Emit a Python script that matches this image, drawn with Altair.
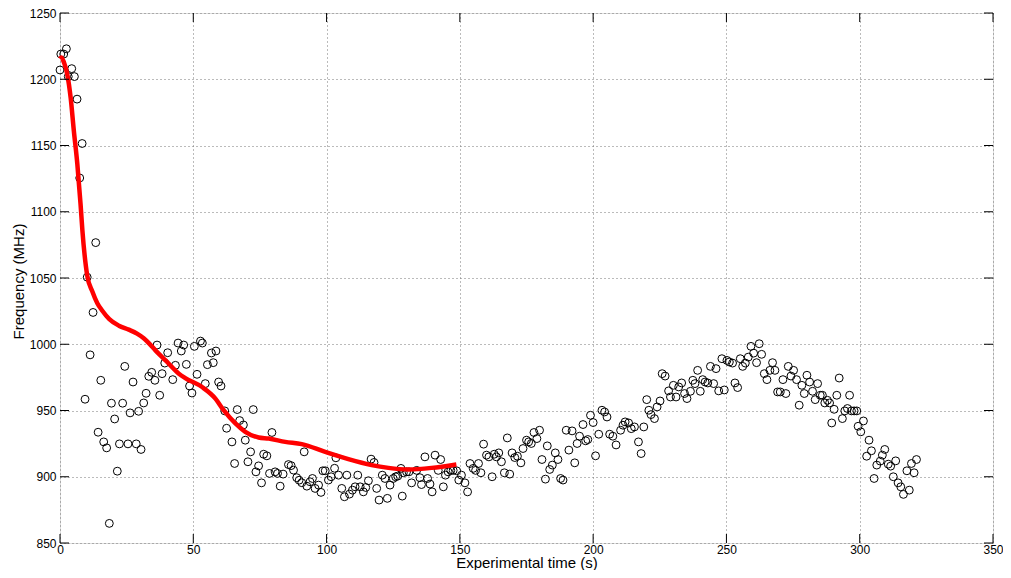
import altair as alt
import pandas as pd

# Scatter data: experimental time (s) and frequency (MHz)
t_s = [0.0, 0.3, 1.4, 2.4, 3.1, 4.4, 5.4, 6.4, 7.4, 8.3, 9.4, 10.2, 11.3, 12.4, 13.4, 14.3, 15.3, 16.4, 17.5, 18.5,
       19.3, 20.5, 21.5, 22.3, 23.5, 24.3, 25.5, 26.3, 27.4, 28.6, 29.5, 30.4, 31.4, 32.3, 33.3, 34.4, 35.6, 36.4, 37.4, 38.3,
       39.3, 40.4, 42.3, 43.3, 44.3, 45.5, 46.4, 47.4, 48.6, 49.5, 50.4, 51.4, 52.7, 53.4, 54.5, 55.3, 56.8, 57.5, 58.5, 59.5,
       60.4, 61.8, 62.5, 64.5, 65.5, 66.5, 67.4, 68.8, 69.5, 70.5, 71.5, 72.5, 73.5, 74.5, 75.6, 76.4, 77.6, 78.6, 79.5, 80.7,
       81.6, 82.6, 83.7, 85.7, 86.7, 87.6, 88.8, 89.7, 90.7, 91.6, 92.6, 93.8, 94.7, 95.7, 97.0, 97.9, 98.6, 99.5, 100.7, 101.7,
       103.0, 103.5, 104.5, 105.7, 106.7, 107.6, 108.6, 109.7, 110.7, 111.7, 112.6, 113.8, 114.7, 115.7, 116.7, 117.8, 118.8, 119.7, 120.9, 121.9,
       122.8, 123.8, 125.0, 125.9, 126.7, 127.9, 128.4, 128.8, 130.0, 130.9, 131.9, 133.8, 135.0, 135.6, 136.9, 137.9, 138.8, 139.6, 140.7, 141.9,
       142.8, 143.8, 144.6, 145.6, 146.6, 147.5, 148.8, 149.6, 150.6, 151.9, 152.9, 153.8, 155.0, 155.9, 157.0, 157.9, 158.9, 160.0, 160.9, 162.1,
       162.9, 163.7, 164.6, 165.6, 166.7, 167.8, 168.7, 169.6, 170.6, 171.6, 172.9, 173.7, 175.0, 175.8, 176.8, 177.8, 178.9, 179.9, 180.8, 182.1,
       182.8, 183.7, 184.7, 185.8, 186.8, 187.8, 188.7, 189.9, 190.9, 192.1, 193.1, 194.0, 194.9, 196.2, 197.2, 198.0, 199.0, 200.0, 200.9, 202.1,
       203.3, 204.3, 205.2, 206.2, 207.4, 208.6, 210.3, 211.2, 212.0, 213.3, 214.3, 215.5, 217.0, 218.0, 219.0, 220.1, 220.9, 221.7, 223.0, 224.0,
       225.1, 225.9, 227.0, 228.3, 229.0, 230.1, 231.1, 232.1, 233.2, 234.3, 235.2, 236.5, 237.4, 238.2, 239.2, 240.2, 241.1, 242.0, 243.0, 244.0,
       245.2, 246.1, 247.1, 248.3, 249.2, 250.2, 251.1, 252.3, 253.2, 254.2, 255.2, 256.1, 257.1, 258.2, 259.2, 260.2, 261.3, 262.3, 263.2, 264.2,
       265.2, 266.3, 267.3, 268.2, 269.2, 270.2, 271.2, 272.3, 273.2, 274.2, 275.2, 276.3, 277.3, 278.3, 279.2, 280.2, 281.2, 282.3, 283.3, 284.2,
       285.2, 286.0, 286.9, 287.9, 288.7, 289.5, 290.4, 291.4, 292.3, 293.5, 294.4, 295.4, 296.2, 296.9, 297.9, 298.9, 299.4, 300.4, 301.4, 302.6,
       303.5, 304.4, 305.4, 306.4, 307.7, 308.5, 309.4, 310.7, 311.6, 312.6, 313.5, 314.4, 315.4, 316.4, 317.7, 318.6, 319.4, 320.4, 321.3]

freq_mhz = [1207, 1219, 1219, 1223, 1202, 1208, 1202, 1185, 1125.5, 1151.5, 958.5, 1050.6, 992, 1024, 1076.7, 933.6, 972.8, 926.3, 921.8, 864.8,
            955.5, 943.6, 904.2, 924.8, 955.5, 983.3, 924.8, 948.2, 971.5, 924.8, 949.4, 920.6, 955.7, 963, 975.8, 978.8, 972.8, 999.4, 961.5, 977.8,
            985.8, 993.6, 973.3, 984.1, 1000.9, 994.9, 999.4, 984.8, 968.5, 963.2, 998.4, 977.3, 1002.4, 1000.9, 970.3, 984.6, 993.4, 986.1, 994.9, 971.5,
            968.5, 949.7, 936.6, 926.3, 910, 950.7, 942.4, 939.1, 927.6, 911.3, 918.8, 950.7, 903.7, 908.2, 895.4, 917, 915.8, 902.5, 933.4, 903.7,
            902.5, 892.9, 902, 909.2, 908.4, 905, 899.3, 897.4, 895.5, 918.8, 892.9, 896.2, 898.7, 891.2, 893.7, 888.2, 904.5, 904.5, 897.5, 900,
            906.4, 914.3, 901.2, 891.2, 884.9, 901.2, 886.9, 889.9, 892.4, 901.2, 892.4, 888.6, 891.9, 897, 913.3, 910.8, 891.2, 882.4, 901.2, 898.7,
            883.7, 893.7, 898.7, 900, 900.5, 906.3, 885.4, 903, 903.7, 903.7, 895.4, 904.8, 899.3, 894.1, 915, 898.7, 894.5, 888.6, 916.3, 904.8,
            913, 892.4, 901.2, 903.7, 904.8, 904.8, 904.5, 897.5, 901.2, 895.4, 888.6, 910, 906.3, 904.8, 910, 903, 924.6, 916.3, 915, 900,
            917, 915, 918, 911.3, 903, 929.3, 902, 918, 914.5, 915.5, 910.5, 921.3, 927.6, 926.3, 925.1, 933.4, 928.8, 935.1, 913, 898.2,
            923.3, 905.5, 908.8, 918, 913, 898.7, 897.5, 935.1, 920.1, 934.6, 910.5, 925.1, 930.6, 939.4, 927.1, 928.1, 946.4, 940.9, 915.8, 932.1,
            950.2, 948.9, 945.1, 932.1, 930.6, 924, 935.1, 938.9, 941.4, 940.6, 936.3, 937.6, 926.3, 917.5, 937.6, 958.2, 950.2, 946.9, 943.9, 952.7,
            957.2, 977.8, 976, 964.8, 960.2, 969, 960.2, 967.8, 970.8, 962.8, 959, 964.5, 972.8, 970.3, 980.3, 964.5, 973.3, 971.5, 970.8, 983.3,
            970.3, 981.6, 964.8, 989.1, 965.5, 987.8, 986.6, 985.8, 970.8, 967.3, 989.1, 983.3, 985.8, 990.3, 998.4, 993.3, 986.1, 1000.4, 992.4, 977.8,
            973.3, 980.3, 986.1, 980.3, 964, 964, 973.3, 962.8, 983.3, 976, 980.3, 973.3, 954, 969, 962.8, 976.6, 971.5, 964.5, 958.2, 970.3,
            961.5, 961.5, 955.7, 957.7, 955.7, 940.6, 950.9, 961.5, 974.5, 943.9, 949.7, 951.5, 961.5, 949.7, 949.7, 949.7, 938.1, 933.9, 942.1, 915.5,
            927.6, 919.6, 898.7, 908.8, 911.8, 916.3, 920.6, 909.5, 908, 900, 912, 895.4, 892.4, 886.7, 904.5, 889.9, 910, 903, 913]

# Smoothed fit (red line)
line_t = [0.0, 0.5, 1.5, 2.7, 4.0, 5.2, 6.5, 7.7, 8.4, 10.2, 12.1, 14.0, 15.8, 18.5, 22.1, 25.8, 28.9, 31.4, 33.5, 35.8,
          39.6, 44.6, 47.0, 53.3, 58.3, 61.4, 65.8, 69.5, 74.5, 78.3, 84.5, 90.7, 99.5, 108.2, 116.9, 123.2, 130.7, 139.4, 148.7]
line_f = [1215.5, 1216.5, 1212.6, 1204, 1186, 1161, 1136, 1106, 1086, 1052, 1040, 1031, 1025.5, 1019, 1014, 1011, 1008, 1004.5, 1000.5, 995.4,
          987.8, 977.8, 974.5, 967.7, 959, 950.2, 940.2, 933.9, 929.6, 928.8, 926.3, 924.6, 918.8, 913.3, 908.8, 906.7, 905.5, 906.7, 909.3]

x_ticks = [0, 50, 100, 150, 200, 250, 300, 350]
y_ticks = [850, 900, 950, 1000, 1050, 1100, 1150, 1200, 1250]

W, H = 933, 530
PAD = {"left": 52, "top": 5, "right": 10, "bottom": 27}
FONT = "Liberation Sans"

pts = pd.DataFrame({"t": t_s, "f": freq_mhz})
fit = pd.DataFrame({"t": line_t, "f": line_f})
xt = pd.DataFrame({"v": x_ticks})
yt = pd.DataFrame({"v": y_ticks})

xscale = alt.Scale(domain=[0, 350], nice=False, zero=False)
yscale = alt.Scale(domain=[850, 1250], nice=False, zero=False)

xaxis = alt.Axis(values=x_ticks, format="d", title="Experimental time (s)", grid=True, gridColor="#777777",
                 gridDash=[1, 3], gridWidth=1, domain=False, ticks=False, labelFlush=False, labelFont=FONT,
                 labelFontSize=12, labelColor="black", labelPadding=1, titleFont=FONT,
                 titleFontSize=15, titleFontWeight="normal", titleColor="black",
                 titleX=W / 2, titleY=24, titleBaseline="alphabetic", titleAnchor="middle", titleAlign="center")
yaxis = alt.Axis(values=y_ticks, format="d", title="Frequency (MHz)", grid=True, gridColor="#777777",
                 gridDash=[1, 3], gridWidth=1, domain=False, ticks=False, labelFlush=False, labelFont=FONT,
                 labelFontSize=12, labelColor="black", labelPadding=4, titleFont=FONT,
                 titleFontSize=15, titleFontWeight="normal", titleColor="black",
                 titleX=-42, titleY=H / 2 + 3, titleAngle=270, titleBaseline="middle", titleAlign="center")

scatter = alt.Chart(pts).mark_point(shape="circle", filled=False, color="black",
                                    size=62, strokeWidth=1, opacity=1).encode(
    x=alt.X("t:Q", scale=xscale, axis=xaxis),
    y=alt.Y("f:Q", scale=yscale, axis=yaxis),
)

line = alt.Chart(fit).mark_line(color="#ff0000", strokeWidth=4.5, interpolate="monotone").encode(
    x=alt.X("t:Q", scale=xscale),
    y=alt.Y("f:Q", scale=yscale),
)

TL = 9
bx = alt.Chart(xt).mark_rule(color="black", strokeWidth=1).encode(
    x=alt.X("v:Q", scale=xscale), y=alt.value(H), y2=alt.value(H - TL))
tx = alt.Chart(xt).mark_rule(color="black", strokeWidth=1).encode(
    x=alt.X("v:Q", scale=xscale), y=alt.value(0), y2=alt.value(TL))
ly = alt.Chart(yt).mark_rule(color="black", strokeWidth=1).encode(
    y=alt.Y("v:Q", scale=yscale), x=alt.value(0), x2=alt.value(TL))
ry = alt.Chart(yt).mark_rule(color="black", strokeWidth=1).encode(
    y=alt.Y("v:Q", scale=yscale), x=alt.value(W), x2=alt.value(W - TL))

chart = alt.layer(scatter, line, bx, tx, ly, ry).properties(
    width=W, height=H,
    autosize=alt.AutoSizeParams(type="none"),
    padding=PAD,
).configure_view(stroke="black", strokeWidth=1).configure(background="white")

chart.save("out.html", embed_options={"renderer": "svg", "actions": False})
